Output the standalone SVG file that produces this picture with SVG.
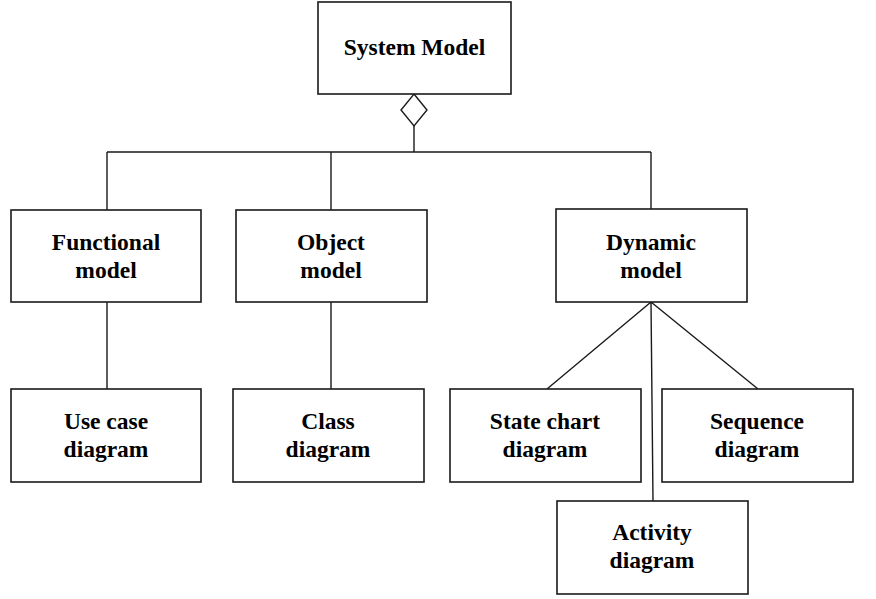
<svg xmlns="http://www.w3.org/2000/svg" width="876" height="599" viewBox="0 0 876 599">
<style>
.box{fill:#fff;stroke:#1a1a1a;stroke-width:1.6}
.ln{fill:none;stroke:#1a1a1a;stroke-width:1.4}
text{font-family:"Liberation Serif","Times New Roman",serif;font-weight:bold;font-size:23.5px;fill:#000;text-anchor:middle}
</style>
<rect width="876" height="599" fill="#fff"/>
<g id="connectors">
<path class="ln" d="M414,126 V152 M107,152 H651 M107,152 V210 M331,152 V210 M651,152 V209"/>
<path class="ln" d="M107,302 V389 M331,302 V391"/>
<path class="ln" d="M651,302 L547,389 M651,302 L758,389 M651,302 L653,501"/>
<polygon class="ln" points="414,94 427,110 414,126 401,110" fill="#fff"/>
</g>
<g id="system-model">
<rect class="box" x="318" y="2" width="193" height="92"/>
<text x="414.5" y="55">System Model</text>
</g>
<g id="functional-model">
<rect class="box" x="11" y="210" width="190" height="92"/>
<text x="106" y="250">Functional</text>
<text x="106" y="278">model</text>
</g>
<g id="object-model">
<rect class="box" x="236" y="210" width="191" height="92"/>
<text x="331" y="250">Object</text>
<text x="331" y="278">model</text>
</g>
<g id="dynamic-model">
<rect class="box" x="556" y="209" width="191" height="93"/>
<text x="651" y="250">Dynamic</text>
<text x="651" y="278">model</text>
</g>
<g id="use-case-diagram">
<rect class="box" x="11" y="389" width="190" height="93"/>
<text x="106" y="429">Use case</text>
<text x="106" y="457">diagram</text>
</g>
<g id="class-diagram">
<rect class="box" x="233" y="389" width="191" height="93"/>
<text x="328" y="429">Class</text>
<text x="328" y="457">diagram</text>
</g>
<g id="state-chart-diagram">
<rect class="box" x="450" y="389" width="191" height="93"/>
<text x="545" y="429">State chart</text>
<text x="545" y="457">diagram</text>
</g>
<g id="sequence-diagram">
<rect class="box" x="662" y="389" width="191" height="93"/>
<text x="757" y="429">Sequence</text>
<text x="757" y="457">diagram</text>
</g>
<g id="activity-diagram">
<rect class="box" x="557" y="501" width="191" height="93"/>
<text x="652" y="540">Activity</text>
<text x="652" y="568">diagram</text>
</g>
</svg>
